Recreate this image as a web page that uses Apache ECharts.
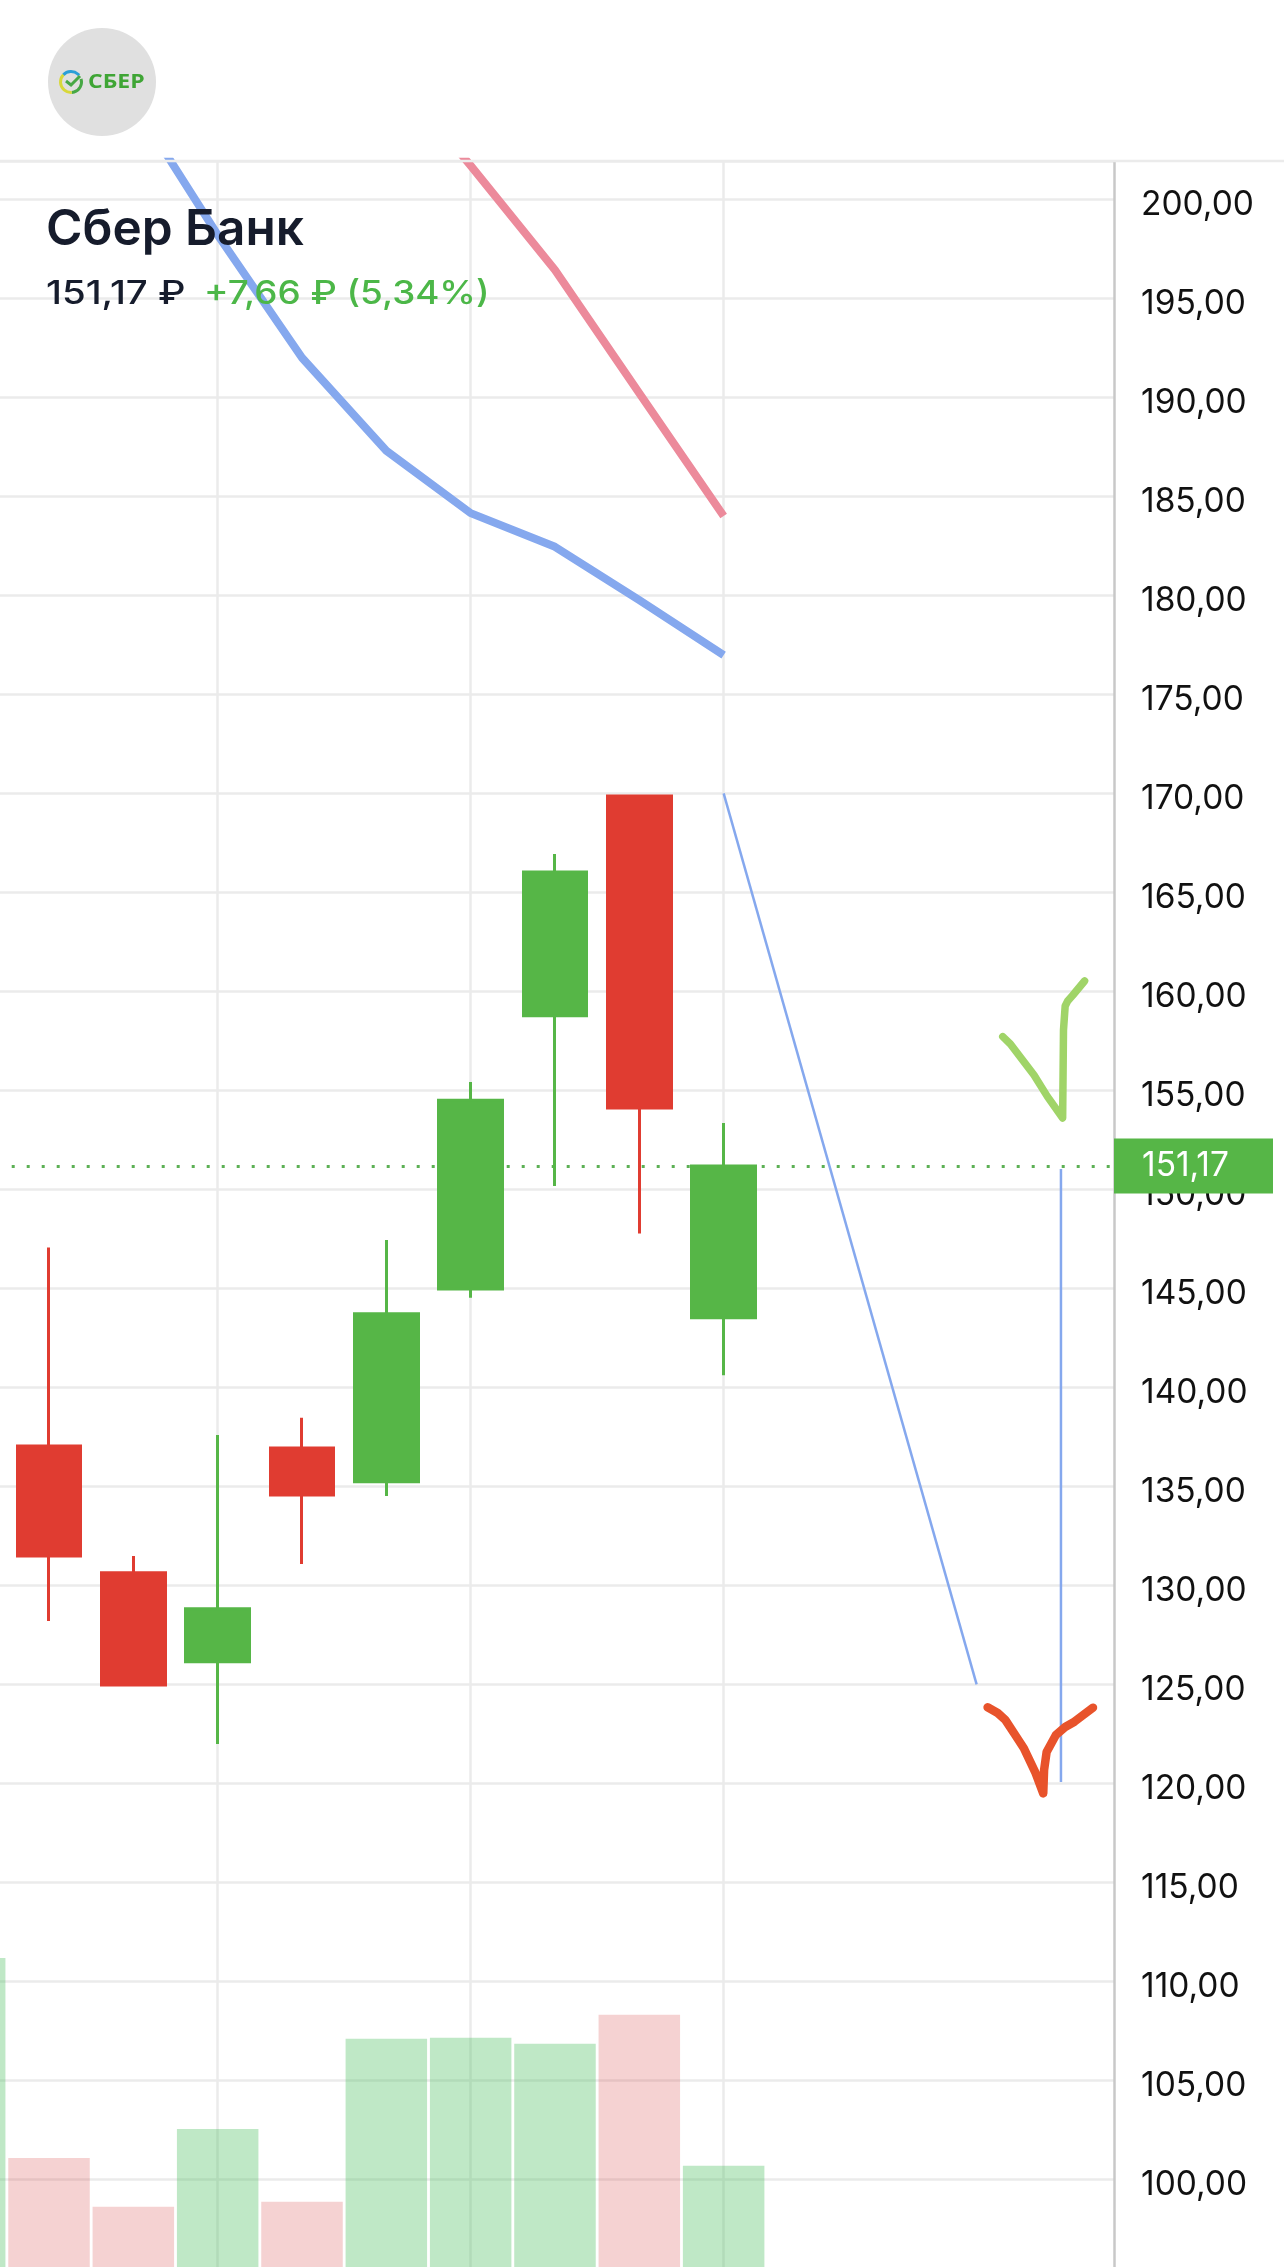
<!DOCTYPE html>
<html><head><meta charset="utf-8">
<script src="https://cdn.jsdelivr.net/npm/echarts@6/dist/echarts.min.js"></script>
<style>html,body{margin:0;padding:0;background:#fff;overflow:hidden}#c{width:1284px;height:2267px}</style>
</head><body><div id="c"></div>
<script>
// Candles (x = candle slot)
const candleSlots = [1, 2, 3, 4, 5, 6, 7, 8, 9];
const opens  = [137.04, 130.63, 126.14, 136.94, 135.23, 144.97, 158.77, 169.86, 143.51];
const closes = [131.48, 124.96, 128.81, 134.56, 143.71, 154.50, 166.02, 154.10, 151.17];
const lows   = [128.20, 124.96, 121.99, 131.08, 134.51, 144.52, 150.17, 147.77, 140.61];
const highs  = [147.06, 131.48, 137.59, 138.46, 147.44, 155.42, 166.94, 169.94, 153.35];
// Volume (relative units)
const volumeSlots = [0, 1, 2, 3, 4, 5, 6, 7, 8, 9];
const volumes  = [32.03, 12.03, 7.16, 14.93, 7.66, 23.96, 24.06, 23.46, 26.36, 11.26];
const volumeUp = [1, 0, 0, 1, 0, 1, 1, 1, 0, 1];
// Moving-average style overlays
const blueSlots = [2, 3, 4, 5, 6, 7, 8, 9];
const blueVals  = [204.9, 198.2, 192.0, 187.3, 184.15, 182.45, 179.76, 176.98];
const pinkSlots = [5, 6, 7, 8, 9];
const pinkVals  = [206.8, 201.7, 196.43, 190.2, 184.0];
// Thin drawn projection lines
const projSlots = [9, 12];
const projVals  = [170, 125];
const dropSlots = [13, 13];
const dropVals  = [151.02, 120.07];
// Hand-drawn marks
const checkSlots = [12.31, 12.40, 12.68, 12.84, 13.02, 13.03, 13.05, 13.08, 13.14, 13.28];
const checkVals  = [157.71, 157.34, 155.77, 154.68, 153.60, 158.04, 159.26, 159.51, 159.80, 160.52];
const veeSlots = [12.13, 12.25, 12.34, 12.45, 12.56, 12.70, 12.79, 12.80, 12.83, 12.94, 13.05, 13.16, 13.38];
const veeVals  = [123.84, 123.55, 123.20, 122.49, 121.77, 120.51, 119.49, 120.67, 121.58, 122.44, 122.84, 123.11, 123.82];
// Axis / labels
const gridSlots = [3, 6, 9];
const lastPrice = 151.17;
const titleText = 'Сбер Банк';
const priceText = '151,17 ₽';
const changeText = '+7,66 ₽ (5,34%)';

const zip = (a, b) => a.map((v, i) => [v, b[i]]);
const fmt = v => v.toFixed(2).replace('.', ',');
const GREEN = '#56b647', RED = '#e03c31', GRID = '#ebebeb', FONT = 'Inter';
const lineS = (name, data, color, width, extra) => Object.assign({
  name, type: 'line', data, symbol: 'none', silent: true, z: 5,
  lineStyle: { color, width, cap: 'butt', join: 'round' }
}, extra || {});

const chart = echarts.init(document.getElementById('c'), null, { renderer: 'canvas', width: 1284, height: 2267 });
chart.setOption({
  animation: false,
  backgroundColor: '#ffffff',
  grid: { left: -288.3, width: 1402.3, top: 161.68, height: 2116.6, containLabel: false, outerBoundsMode: 'none' },
  xAxis: { type: 'value', min: -3, max: 13.629, interval: 3, show: false, splitLine: { show: false } },
  yAxis: [
    { type: 'value', position: 'right', min: 95, max: 201.9, interval: 5, scale: true,
      axisLine: { show: true, onZero: false, lineStyle: { color: '#c8c8c8', width: 2.5 } },
      axisTick: { show: false },
      splitLine: { show: true, lineStyle: { color: GRID, width: 2.5 } },
      axisLabel: { show: true, margin: 27, fontFamily: FONT, fontSize: 33.5, color: '#111111', showMaxLabel: false, showMinLabel: false,
        verticalAlign: 'top', lineHeight: 11,
        formatter: v => (v >= 100 && v <= 200) ? fmt(v) : '' } },
    { type: 'value', show: false, min: 0, max: 211.66, splitLine: { show: false } }
  ],
  series: [
    { name: 'vgrid', type: 'line', data: [], z: 1, silent: true,
      markLine: { z: 1, silent: true, symbol: 'none', label: { show: false },
        lineStyle: { color: GRID, width: 2.5, type: 'solid' },
        data: gridSlots.map(x => ({ xAxis: x })) } },
    { name: 'Объём', type: 'bar', yAxisIndex: 1, barWidth: 81.5, z: 2, silent: true,
      data: volumes.map((v, i) => ({ value: [volumeSlots[i], v],
        itemStyle: { color: volumeUp[i] ? 'rgba(72,189,92,0.35)' : 'rgba(205,30,30,0.2)' } })) },
    { name: 'last', type: 'line', data: [], z: 3, silent: true,
      markLine: { z: 3, silent: true, symbol: 'none',
        lineStyle: { color: '#5cb054', width: 3, type: [3, 12] },
        label: { show: true, position: 'end', distance: 0, formatter: () => fmt(lastPrice),
          fontFamily: FONT, fontSize: 33.5, color: '#ffffff', backgroundColor: GREEN,
          align: 'left', verticalAlign: 'middle', width: 131, height: 55, lineHeight: 65, padding: [0, 0, 0, 28] },
        data: [{ yAxis: lastPrice }] } },
    { name: 'Свечи', type: 'candlestick', z: 4, silent: true, barWidth: 64,
      itemStyle: { color: GREEN, color0: RED, borderColor: GREEN, borderColor0: RED, borderWidth: 3 },
      encode: { x: 0, y: [1, 2, 3, 4] },
      data: candleSlots.map((x, i) => [x, opens[i], closes[i], lows[i], highs[i]]) },
    lineS('MA1', zip(blueSlots, blueVals), '#85a8ee', 8),
    lineS('MA2', zip(pinkSlots, pinkVals), '#ec8a9b', 8),
    lineS('proj', zip(projSlots, projVals), '#85a8ee', 2.5),
    lineS('drop', zip(dropSlots, dropVals), '#85a8ee', 2.5),
    lineS('check', zip(checkSlots, checkVals), '#a0d468', 7.5, { lineStyle: { color: '#a0d468', width: 7.5, cap: 'round', join: 'round' } }),
    lineS('vee', zip(veeSlots, veeVals), '#e8532b', 8.5, { lineStyle: { color: '#e8532b', width: 8.5, cap: 'round', join: 'round' } })
  ],
  graphic: { elements: [
    { type: 'line', silent: true, z: 50, shape: { x1: 0, y1: 161, x2: 1284, y2: 161 }, style: { stroke: GRID, lineWidth: 2.5 } },
    { type: 'circle', silent: true, z: 50, shape: { cx: 102, cy: 82, r: 54 }, style: { fill: '#e0e0e0' } },
    { type: 'arc', silent: true, z: 51, shape: { cx: 71, cy: 82, r: 10.5, startAngle: -2.4, endAngle: -0.7 }, style: { stroke: '#2a9fd8', lineWidth: 3, fill: null } },
    { type: 'arc', silent: true, z: 51, shape: { cx: 71, cy: 82, r: 10.5, startAngle: -0.3, endAngle: 1.5 }, style: { stroke: '#47a845', lineWidth: 3, fill: null } },
    { type: 'arc', silent: true, z: 51, shape: { cx: 71, cy: 82, r: 10.5, startAngle: 1.5, endAngle: 3.9 }, style: { stroke: '#d8d83a', lineWidth: 3, fill: null } },
    { type: 'polyline', silent: true, z: 52, shape: { points: [[66, 81], [71, 85], [80, 76]] }, style: { stroke: '#47a845', lineWidth: 3, fill: null } },
    { type: 'text', silent: true, z: 52, x: 88, y: 82, scaleX: 1.15, style: { text: 'СБЕР', fill: '#3fa535', font: '700 20px "Open Sans"', textAlign: 'left', textVerticalAlign: 'middle' } },
    { type: 'text', silent: true, z: 60, x: 46, y: 230.5, style: { text: titleText, fill: '#161c2c', font: '600 49.5px Inter', textAlign: 'left', textVerticalAlign: 'middle' } },
    { type: 'text', silent: true, z: 60, x: 46, y: 294, scaleX: 1.2, style: { text: priceText, fill: '#161c2c', font: '500 32px Inter', textAlign: 'left', textVerticalAlign: 'middle' } },
    { type: 'text', silent: true, z: 60, x: 204, y: 294, scaleX: 1.15, style: { text: changeText, fill: '#4cb748', font: '500 32px Inter', textAlign: 'left', textVerticalAlign: 'middle' } }
  ] }
});
</script></body></html>
